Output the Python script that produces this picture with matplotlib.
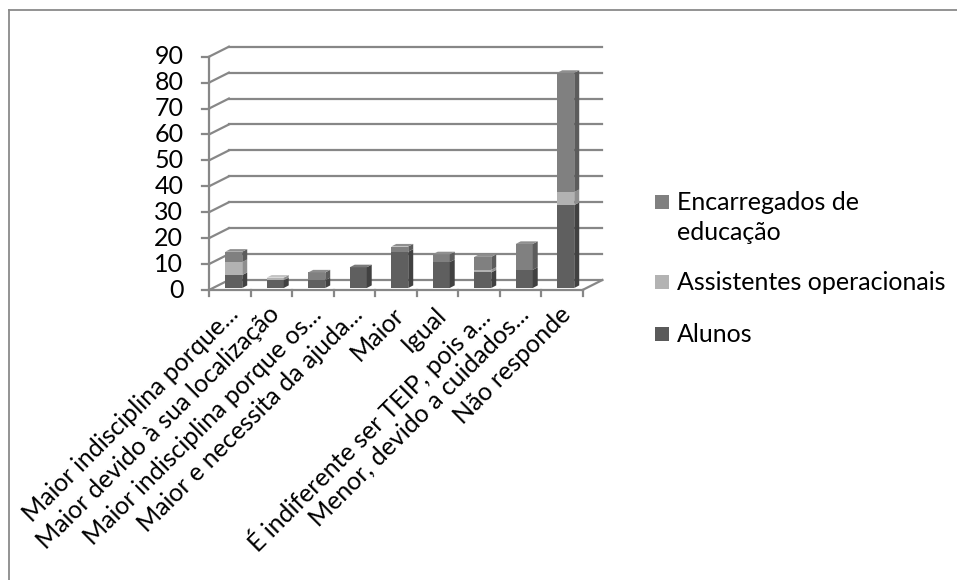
import matplotlib.pyplot as plt
from matplotlib.patches import Polygon, Rectangle
from matplotlib.lines import Line2D

plt.rcParams['font.family'] = ['Lato', 'DejaVu Sans']

categorias = ["Maior indisciplina porque...", "Maior devido à sua localização",
              "Maior indisciplina porque os...", "Maior e necessita da ajuda...",
              "Maior", "Igual", "É indiferente ser TEIP, pois a...",
              "Menor, devido a cuidados...", "Não responde"]
alunos = [5, 3, 3, 8, 14, 10, 6, 7, 32]
assistentes = [5, 1, 0, 0, 0, 0, 1, 0, 5]
encarregados = [4, 0, 3, 0, 2, 3, 5, 10, 46]

series = [("Alunos", alunos, ("#5f5f5f", "#414141", "#7a7a7a")),
          ("Assistentes operacionais", assistentes, ("#b2b2b2", "#8e8e8e", "#c4c4c4")),
          ("Encarregados de educação", encarregados, ("#808080", "#5c5c5c", "#8f8f8f"))]

W, H = 957, 580
FS = 18
fig = plt.figure(figsize=(W / 100, H / 100), dpi=100)

# plot area in pixels: front axis at x=209..582.5, y=290 (0) .. 56.7 (90)
x0, x1, y0, y90 = 209, 582.5, 290, 56.7
ax = fig.add_axes([x0 / W, (H - y0) / H, (x1 - x0) / W, (y0 - y90) / H])
ax.set_xlim(0, 9)
ax.set_ylim(0, 90)
ax.axis('off')

n = len(categorias)
DX, DY = 0.48, 3.86          # depth offset of back wall (data units)
grid = '#878787'

# back wall gridlines and left wall diagonals
for v in range(0, 100, 10):
    ax.plot([DX, n + DX], [v + DY, v + DY], color=grid, lw=1.6, clip_on=False, zorder=1)
    ax.plot([0, DX], [v, v + DY], color=grid, lw=1.6, clip_on=False, zorder=1)
    ax.plot([-0.17, 0], [v, v], color=grid, lw=1.6, clip_on=False, zorder=1)
    ax.text(-0.62, v, str(v), ha='right', va='center', fontsize=FS)

# floor and front axis
ax.plot([0, n], [0, 0], color=grid, lw=1.6, clip_on=False, zorder=1)
ax.plot([n, n + DX], [0, DY], color=grid, lw=1.6, clip_on=False, zorder=1)
ax.plot([0, 0], [0, 90], color=grid, lw=1.6, clip_on=False, zorder=1)
for i in range(n + 1):
    ax.plot([i, i], [0, -2.4], color=grid, lw=1.6, clip_on=False, zorder=1)

# 3D-looking stacked columns
bw = 0.41                    # front face width
sx, sy = 0.096, 0.77         # shift of columns into the floor
bdx, bdy = 0.12, 1.0         # column depth
bottoms = [0] * n
tops = [a + b + c for a, b, c in zip(alunos, assistentes, encarregados)]
for name, vals, (front, side, top) in series:
    for i, v in enumerate(vals):
        if v <= 0:
            continue
        left = i + (1 - bw) / 2 + sx
        b = bottoms[i] + sy
        ax.bar(left, v, bottom=b, width=bw, align='edge', color=front,
               clip_on=False, zorder=3)
        ax.add_patch(Polygon([(left + bw, b), (left + bw + bdx, b + bdy),
                              (left + bw + bdx, b + v + bdy), (left + bw, b + v)],
                             closed=True, facecolor=side, edgecolor='none',
                             clip_on=False, zorder=3))
        if bottoms[i] + v == tops[i]:
            t = b + v
            ax.add_patch(Polygon([(left, t), (left + bdx, t + bdy),
                                  (left + bw + bdx, t + bdy), (left + bw, t)],
                                 closed=True, facecolor=top, edgecolor='none',
                                 clip_on=False, zorder=3))
        bottoms[i] += v

# category labels
for i, c in enumerate(categorias):
    ax.text(i + 0.42, -4.8, c, rotation=45, ha='right', va='top',
            rotation_mode='anchor', fontsize=FS)

# legend
legend_items = [(["Encarregados de", "educação"], "#808080", 202),
                (["Assistentes operacionais"], "#b3b3b3", 282),
                (["Alunos"], "#5a5a5a", 334)]
for lines, col, py in legend_items:
    fig.patches.append(Rectangle((655 / W, (H - py - 7) / H), 14 / W, 14 / H,
                                 transform=fig.transFigure, facecolor=col,
                                 edgecolor='none'))
    for k, line in enumerate(lines):
        fig.text(677 / W, (H - py - 30 * k) / H, line, ha='left', va='center',
                 fontsize=FS)

# chart border
fig.add_artist(Line2D([8.5 / W, 8.5 / W], [0, (H - 10) / H], color='#8a8a8a', lw=1.3,
                      transform=fig.transFigure))
fig.add_artist(Line2D([8.5 / W, 1], [(H - 10) / H, (H - 10) / H], color='#8a8a8a', lw=1.3,
                      transform=fig.transFigure))

fig.savefig('out.png', dpi=100)
